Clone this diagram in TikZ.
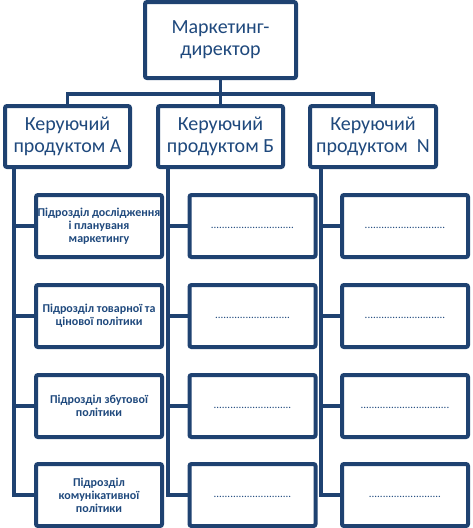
\documentclass[tikz,border=0pt]{standalone}
\usepackage{fontspec}
\setmainfont{Carlito}
\definecolor{boxblue}{HTML}{1F4271}
\definecolor{txtblue}{HTML}{1F497D}
\tikzset{
  bigbox/.style={draw=boxblue, line width=4pt, rounded corners=2pt, fill=white,
    align=center, text=txtblue, inner sep=0pt, font=\fontsize{20}{22}\selectfont},
  subbox/.style={draw=boxblue, line width=4pt, rounded corners=2pt, fill=white,
    align=center, text=txtblue, inner sep=0pt, minimum width=126pt, minimum height=62pt,
    font=\bfseries\fontsize{12}{13}\selectfont},
  dotbox/.style={subbox, font=\fontsize{11}{13}\selectfont},
  link/.style={draw=boxblue, line width=3.7pt}
}
\newcommand{\dotrow}[1]{\strut\foreach \k in {1,...,#1}{.}}
\begin{document}
\begin{tikzpicture}[x=1pt,y=-1pt]
\useasboundingbox (0,0) rectangle (473,528);
% top
\node[bigbox, minimum width=151pt, minimum height=76pt] (top) at (220.5,40) {Маркетинг-\\директор};
% managers
\node[bigbox, minimum width=125pt, minimum height=61pt] (ma) at (67.5,136.5) {Керуючий\\продуктом А};
\node[bigbox, minimum width=125pt, minimum height=61pt] (mb) at (220.5,136.5) {Керуючий\\продуктом Б};
\node[bigbox, minimum width=126pt, minimum height=61pt] (mn) at (373,136.5) {Керуючий\\продуктом\ \ N};
% column A
\node[subbox] (a1) at (99,226) {Підрозділ дослідження\\і плануваня\\маркетингу};
\node[subbox] (a2) at (99,316) {Підрозділ товарної та\\цінової політики};
\node[subbox] (a3) at (99,406) {Підрозділ збутової\\політики};
\node[subbox] (a4) at (99,495) {Підрозділ\\комунікативної\\політики};
% column B
\node[dotbox] (b1) at (252.5,226) {\dotrow{30}};
\node[dotbox] (b2) at (252.5,316) {\dotrow{27}};
\node[dotbox] (b3) at (252.5,406) {\dotrow{28}};
\node[dotbox] (b4) at (252.5,495) {\dotrow{28}};
% column N
\node[dotbox] (n1) at (405,226) {\dotrow{29}};
\node[dotbox] (n2) at (405,316) {\dotrow{29}};
\node[dotbox] (n3) at (405,406) {\dotrow{32}};
\node[dotbox] (n4) at (405,495) {\dotrow{26}};
% top connectors
\coordinate (hub) at ([yshift=-14pt]top.south);
\draw[link] (top.south) -- (mb.north);
\draw[link] (ma.north) |- (hub) -| (mn.north);
% trunks
\coordinate (ta) at ([xshift=11pt]ma.south west);
\coordinate (tb) at ([xshift=12pt]mb.south west);
\coordinate (tn) at ([xshift=13pt]mn.south west);
\draw[link] (ta) |- (a4.west);
\draw[link] (tb) |- (b4.west);
\draw[link] (tn) |- (n4.west);
\foreach \i in {1,2,3}{
  \draw[link] (a\i.west) -- (a\i.west -| ta);
  \draw[link] (b\i.west) -- (b\i.west -| tb);
  \draw[link] (n\i.west) -- (n\i.west -| tn);
}
\end{tikzpicture}
\end{document}
